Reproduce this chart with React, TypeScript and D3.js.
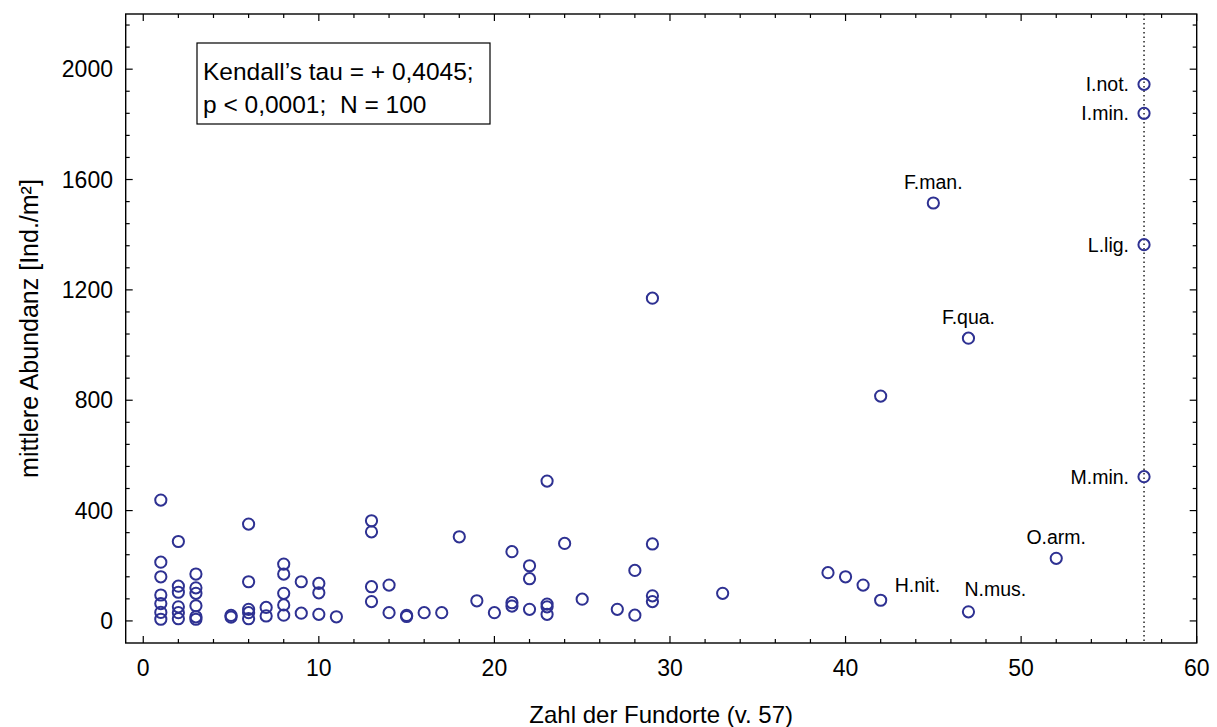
import React from "react";
import * as d3 from "d3";

// ---- data ----
const xs: number[] = [
  1, 1, 1, 1, 1, 1, 1,
  2, 2, 2, 2, 2, 2,
  3, 3, 3, 3, 3, 3,
  5, 5,
  6, 6, 6, 6, 6,
  7, 7,
  8, 8, 8, 8, 8,
  9, 9,
  10, 10, 10,
  11,
  13, 13, 13, 13,
  14, 14,
  15, 15,
  16, 17, 18, 19, 20,
  21, 21, 21,
  22, 22, 22,
  23, 23, 23, 23,
  24, 25, 27,
  28, 28,
  29, 29, 29, 29,
  33, 39, 40, 41,
  42, 42,
  45,
  47, 47,
  52,
  57, 57, 57, 57,
];
const ys: number[] = [
  438, 213, 160, 94, 63, 31, 6,
  288, 126, 104, 51, 30, 8,
  170, 120, 100, 55, 15, 6,
  20, 14,
  351, 142, 42, 30, 8,
  49, 18,
  206, 170, 100, 58, 21,
  142, 28,
  136, 102, 24,
  15,
  363, 323, 124, 70,
  130, 30,
  20, 16,
  30, 30, 305, 73, 30,
  251, 66, 54,
  200, 153, 42,
  507, 61, 51, 24,
  281, 79, 42,
  183, 21,
  1170, 279, 91, 70,
  100, 175, 160, 130,
  815, 75,
  1515,
  1025, 33,
  227,
  1945, 1840, 1364, 523,
];

const labelNames = ["I.not.", "I.min.", "F.man.", "L.lig.", "F.qua.", "M.min.", "O.arm.", "H.nit.", "N.mus."];
const labelX = [57, 57, 45, 57, 47, 57, 52, 42, 47];
const labelY = [1945, 1840, 1515, 1364, 1025, 523, 227, 75, 33];
const labelSide = ["left", "left", "above", "left", "above", "left", "above", "right", "aboveRight"];

const xTickValues = [0, 10, 20, 30, 40, 50, 60];
const yTickValues = [0, 400, 800, 1200, 1600, 2000];
const refLineX = 57;

const statLines = ["Kendall\u2019s tau = + 0,4045;", "p < 0,0001;\u00A0 N = 100"];
const xTitle = "Zahl der Fundorte (v. 57)";
const yTitle = "mittlere Abundanz [Ind./m\u00B2]";

export default function App() {
  const W = 1217, H = 727;
  const L = 125.7, R = 1196.7, T = 14, B = 643;
  const x = d3.scaleLinear().domain([-1, 60]).range([L, R]);
  const y = d3.scaleLinear().domain([-80, 2200]).range([B, T]);
  const font = "'Liberation Sans', Arial, Helvetica, sans-serif";
  const blue = "#2e3192";

  const xMinor = d3.range(0, 61, 2);
  const yMinor = d3.range(0, 2201, 80);

  return (
    <svg width={W} height={H} style={{ position: "absolute", left: 0, top: 0, background: "#fff" }} fontFamily={font}>
      <rect x={0} y={0} width={W} height={H} fill="#fff" />
      {/* ref line */}
      <line x1={x(refLineX)} x2={x(refLineX)} y1={T} y2={B} stroke="#000" strokeWidth={1.3} strokeDasharray="1.5,3" />
      {/* ticks */}
      {xMinor.map((v) => {
        const len = v % 10 === 0 ? 7 : 4;
        return (
          <g key={"xt" + v}>
            <line x1={x(v)} x2={x(v)} y1={B} y2={B - len} stroke="#000" strokeWidth={1.2} />
            <line x1={x(v)} x2={x(v)} y1={T} y2={T + len} stroke="#000" strokeWidth={1.2} />
          </g>
        );
      })}
      {yMinor.map((v) => {
        const len = v % 400 === 0 ? 7 : 4;
        return (
          <g key={"yt" + v}>
            <line x1={L} x2={L + len} y1={y(v)} y2={y(v)} stroke="#000" strokeWidth={1.2} />
            <line x1={R} x2={R - len} y1={y(v)} y2={y(v)} stroke="#000" strokeWidth={1.2} />
          </g>
        );
      })}
      {/* frame */}
      <rect x={L} y={T} width={R - L} height={B - T} fill="none" stroke="#000" strokeWidth={1.4} />
      {/* tick labels */}
      {xTickValues.map((v) => (
        <text key={"xl" + v} x={x(v)} y={676} fontSize={23} textAnchor="middle">{v}</text>
      ))}
      {yTickValues.map((v) => (
        <text key={"yl" + v} x={113} y={y(v) + 8} fontSize={23} textAnchor="end">{v}</text>
      ))}
      {/* titles */}
      <text x={(L + R) / 2} y={723} fontSize={24} textAnchor="middle">{xTitle}</text>
      <text transform={`translate(38,${(T + B) / 2}) rotate(-90)`} fontSize={25} textAnchor="middle">{yTitle}</text>
      {/* stats box */}
      <rect x={197} y={43} width={293} height={81} fill="#fff" stroke="#000" strokeWidth={1.2} />
      {statLines.map((s, i) => (
        <text key={"s" + i} x={203} y={80 + i * 33} fontSize={24.5}>{s}</text>
      ))}
      {/* points */}
      {xs.map((v, i) => (
        <circle key={"p" + i} cx={x(v)} cy={y(ys[i])} r={5.6} fill="none" stroke={blue} strokeWidth={2} />
      ))}
      {/* labels */}
      {labelNames.map((n, i) => {
        const px = x(labelX[i]);
        const py = y(labelY[i]);
        const side = labelSide[i];
        const fs = 19.5;
        if (side === "left")
          return <text key={"lb" + i} x={px - 15} y={py + 7} fontSize={fs} textAnchor="end">{n}</text>;
        if (side === "right")
          return <text key={"lb" + i} x={px + 14} y={py - 8} fontSize={fs} textAnchor="start">{n}</text>;
        if (side === "aboveRight")
          return <text key={"lb" + i} x={px - 4} y={py - 16} fontSize={fs} textAnchor="start">{n}</text>;
        return <text key={"lb" + i} x={px} y={py - 14} fontSize={fs} textAnchor="middle">{n}</text>;
      })}
    </svg>
  );
}
